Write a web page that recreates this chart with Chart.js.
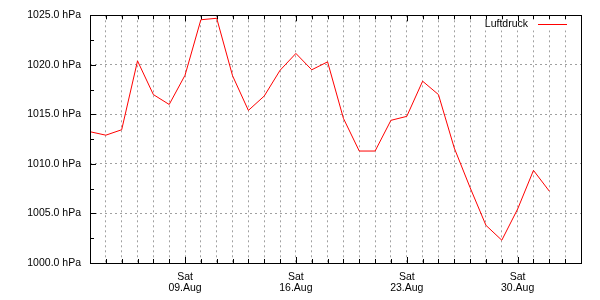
<!DOCTYPE html>
<html>
<head>
<meta charset="utf-8">
<script src="https://cdn.jsdelivr.net/npm/chart.js@4/dist/chart.umd.min.js"></script>
<style>
  html, body { margin: 0; padding: 0; background: #fff; }
  #wrap { width: 600px; height: 300px; }
</style>
</head>
<body>
<div id="wrap"><canvas id="pressureChart"></canvas></div>
<script>
// Tage auf der x-Achse (03.Aug bis 03.Sep)
const days = ['03.Aug', '04.Aug', '05.Aug', '06.Aug', '07.Aug', '08.Aug', '09.Aug', '10.Aug',
    '11.Aug', '12.Aug', '13.Aug', '14.Aug', '15.Aug', '16.Aug', '17.Aug', '18.Aug',
    '19.Aug', '20.Aug', '21.Aug', '22.Aug', '23.Aug', '24.Aug', '25.Aug', '26.Aug',
    '27.Aug', '28.Aug', '29.Aug', '30.Aug', '31.Aug', '01.Sep', '02.Sep', '03.Sep'];

// Beschriftete Tage (Samstage)
const labeledDays = ['09.Aug', '16.Aug', '23.Aug', '30.Aug'];
const labeledWeekday = 'Sat';

// Luftdruck in hPa, ein Wert pro Tag
const pressure = [1013.25, 1012.9, 1013.45, 1020.4, 1017.0, 1016.0, 1018.95, 1024.55,
    1024.7, 1018.9, 1015.4, 1016.85, 1019.45, 1021.15, 1019.5, 1020.3,
    1014.6, 1011.3, 1011.3, 1014.4, 1014.8, 1018.35, 1017.0, 1011.6,
    1007.6, 1003.8, 1002.3, 1005.45, 1009.35, 1007.25];

const seriesName = 'Luftdruck';
const yMin = 1000;
const yMax = 1025;

const FONT = 'Liberation Sans, Arial, sans-serif';
const GRID = '#a0a0a0';

// Rahmen, Ticks nach innen und Legende selbst zeichnen
const framePlugin = {
    id: 'frame',
    afterDraw(chart) {
        const { ctx, chartArea: a, scales } = chart;
        const x = scales.x, y = scales.y;
        ctx.save();
        ctx.strokeStyle = '#000';
        ctx.lineWidth = 1;
        ctx.setLineDash([]);

        // Legende mit weissem Hintergrund
        const ds = chart.data.datasets[0];
        ctx.font = '10.5px ' + FONT;
        const tw = ctx.measureText(ds.label).width;
        const lineR = a.right - 14, lineL = lineR - 29;
        const textR = lineL - 10;
        const ly = a.top + 9;
        ctx.fillStyle = '#fff';
        ctx.fillRect(textR - tw - 4, a.top + 1, a.right - (textR - tw - 4) - 9, 14);
        ctx.fillStyle = '#000';
        ctx.textAlign = 'right';
        ctx.textBaseline = 'middle';
        ctx.fillText(ds.label, textR, ly);
        ctx.strokeStyle = ds.borderColor;
        ctx.beginPath();
        ctx.moveTo(lineL, Math.round(ly) + 0.5);
        ctx.lineTo(lineR, Math.round(ly) + 0.5);
        ctx.stroke();

        ctx.strokeStyle = '#000';
        ctx.beginPath();
        // x-Ticks oben und unten
        for (let i = 1; i < days.length - 1; i++) {
            const px = Math.round(x.getPixelForTick(i)) + 0.5;
            const len = labeledDays.includes(days[i]) ? 6 : 4;
            ctx.moveTo(px, a.bottom);
            ctx.lineTo(px, a.bottom - len);
            ctx.moveTo(px, a.top);
            ctx.lineTo(px, a.top + len);
        }
        // y-Ticks links
        y.ticks.forEach(t => {
            const py = Math.round(y.getPixelForValue(t.value)) + 0.5;
            const len = t.value % 5 === 0 ? 6 : 4;
            ctx.moveTo(a.left, py);
            ctx.lineTo(a.left + len, py);
        });
        ctx.stroke();

        ctx.strokeRect(Math.round(a.left) + 0.5, Math.round(a.top) + 0.5,
            Math.round(a.right - a.left), Math.round(a.bottom - a.top));
        ctx.restore();
    }
};

const ctx = document.getElementById('pressureChart').getContext('2d');
new Chart(ctx, {
    type: 'line',
    data: {
        labels: days,
        datasets: [{
            label: seriesName,
            data: pressure,
            borderColor: '#ff0000',
            borderWidth: 1,
            pointRadius: 0,
            tension: 0,
            fill: false
        }]
    },
    options: {
        responsive: true,
        maintainAspectRatio: false,
        animation: false,
        events: [],
        layout: { padding: { top: 13, right: 19, left: 0, bottom: 0 } },
        plugins: { legend: { display: false }, tooltip: { enabled: false } },
        scales: {
            x: {
                type: 'category',
                offset: false,
                grid: {
                    color: c => (c.index === 0 || c.index === days.length - 1) ? 'transparent' : GRID,
                    drawTicks: false,
                    lineWidth: 1
                },
                border: { display: false, dash: [2, 3] },
                ticks: {
                    autoSkip: false,
                    maxRotation: 0,
                    padding: 8,
                    color: '#000',
                    font: { family: FONT, size: 10.5, lineHeight: 1.1 },
                    callback: function (val, i) {
                        const d = days[i];
                        return labeledDays.includes(d) ? [labeledWeekday, d] : '';
                    }
                },
                afterFit: s => { s.height = 37; }
            },
            y: {
                min: yMin,
                max: yMax,
                grid: {
                    color: c => (c.tick && c.tick.value % 5 === 0 && c.tick.value !== yMin && c.tick.value !== yMax) ? GRID : 'transparent',
                    drawTicks: false,
                    lineWidth: 1
                },
                border: { display: false, dash: [2, 3] },
                ticks: {
                    stepSize: 2.5,
                    padding: 9,
                    color: '#000',
                    font: { family: FONT, size: 10.5 },
                    callback: v => v % 5 === 0 ? v.toFixed(1) + ' hPa' : ''
                },
                afterFit: s => { s.width = 90; }
            }
        }
    },
    plugins: [framePlugin]
});
</script>
</body>
</html>
